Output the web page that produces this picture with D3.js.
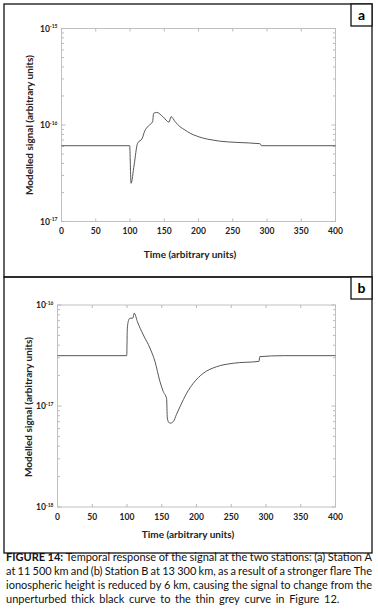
<!DOCTYPE html>
<html>
<head>
<meta charset="utf-8">
<script src="https://cdn.jsdelivr.net/npm/d3@7"></script>
<style>
  body { margin: 0; background: #fff; }
  svg { display: block; font-family: Lato, "Open Sans", sans-serif; }
</style>
</head>
<body>
<svg id="fig" width="378" height="610"></svg>
<script>
// Panel a: station A
const timeA = [0, 99.5, 101.5, 106, 111, 118, 121, 127, 133, 134.5, 139, 148, 157, 160, 166, 173, 180, 188, 197, 207, 220, 231, 256, 290, 292, 400]
const signalA = [6.1e-17, 6.1e-17, 2.49e-17, 3.85e-17, 6.45e-17, 7.3e-17, 8.5e-17, 9.8e-17, 1.08e-16, 1.32e-16, 1.35e-16, 1.22e-16, 1.07e-16, 1.22e-16, 1.08e-16, 9.6e-17, 8.9e-17, 8.2e-17, 7.7e-17, 7.3e-17, 7.0e-17, 6.8e-17, 6.6e-17, 6.4e-17, 6.1e-17, 6.1e-17]

// Panel b: station B
const timeB = [0, 99.6, 100.5, 102.4, 104.3, 108.2, 110.5, 114.9, 123.5, 133, 140.3, 147.5, 152.2, 157, 158, 160, 162, 166.6, 171, 176.3, 185.9, 195.4, 209.8, 229, 253, 290, 291, 325, 400]
const signalB = [3.15e-17, 3.15e-17, 5.9e-17, 7.1e-17, 7.4e-17, 7.4e-17, 8.3e-17, 6.85e-17, 5.05e-17, 3.75e-17, 2.75e-17, 1.74e-17, 1.39e-17, 1.18e-17, 7.6e-18, 6.9e-18, 6.75e-18, 7.0e-18, 8.2e-18, 9.85e-18, 1.34e-17, 1.68e-17, 2.11e-17, 2.45e-17, 2.65e-17, 2.77e-17, 3.08e-17, 3.15e-17, 3.15e-17]

const xTicks = [0, 50, 100, 150, 200, 250, 300, 350, 400]
const expA = [-15, -16, -17]
const expB = [-16, -17, -18]

const captionLines = [
  'FIGURE 14: Temporal response of the signal at the two stations: (a) Station A',
  'at 11 500 km and (b) Station B at 13 300 km, as a result of a stronger flare The',
  'ionospheric height is reduced by 6 km, causing the signal to change from the',
  'unperturbed thick black curve to the thin grey curve in Figure 12.'
]

const svg = d3.select('#fig')

function drawPanel(p) {
  // outer frame
  svg.append('rect')
    .attr('x', 4).attr('y', p.boxTop)
    .attr('width', 368).attr('height', p.boxBottom - p.boxTop)
    .attr('fill', 'none').attr('stroke', '#111').attr('stroke-width', 1.3)
  // letter box
  svg.append('rect')
    .attr('x', 351).attr('y', p.boxTop)
    .attr('width', 21).attr('height', 22)
    .attr('fill', '#fff').attr('stroke', '#111').attr('stroke-width', 1.3)
  svg.append('text')
    .attr('x', 361.5).attr('y', p.boxTop + 15.5)
    .attr('text-anchor', 'middle')
    .attr('font-size', 14).attr('font-weight', 'bold')
    .text(p.letter)

  const x = d3.scaleLinear().domain([0, 400]).range([p.left, p.right])
  const y = d3.scaleLog().domain(p.domain).range([p.bottom, p.top])

  const g = svg.append('g')

  // minor + major log ticks on both sides
  const yTicks = []
  for (let e = Math.log10(p.domain[0]); e < Math.log10(p.domain[1]); e++) {
    for (let m = 1; m < 10; m++) yTicks.push(m * Math.pow(10, e))
  }
  yTicks.push(p.domain[1])
  g.selectAll('.ytl').data(yTicks).join('line')
    .attr('x1', p.left).attr('x2', d => p.left + (Number.isInteger(Math.log10(d)) ? 4 : 2.5))
    .attr('y1', d => y(d)).attr('y2', d => y(d))
    .attr('stroke', '#aaa').attr('stroke-width', 0.8)
  g.selectAll('.ytr').data(yTicks).join('line')
    .attr('x1', p.right).attr('x2', d => p.right - (Number.isInteger(Math.log10(d)) ? 4 : 2.5))
    .attr('y1', d => y(d)).attr('y2', d => y(d))
    .attr('stroke', '#aaa').attr('stroke-width', 0.8)

  // x ticks top and bottom
  g.selectAll('.xtb').data(xTicks).join('line')
    .attr('x1', d => x(d)).attr('x2', d => x(d))
    .attr('y1', p.bottom).attr('y2', p.bottom - 3)
    .attr('stroke', '#aaa').attr('stroke-width', 0.8)
  g.selectAll('.xtt').data(xTicks).join('line')
    .attr('x1', d => x(d)).attr('x2', d => x(d))
    .attr('y1', p.top).attr('y2', p.top + 3)
    .attr('stroke', '#aaa').attr('stroke-width', 0.8)

  // plot frame
  g.append('rect')
    .attr('x', p.left).attr('y', p.top)
    .attr('width', p.right - p.left).attr('height', p.bottom - p.top)
    .attr('fill', 'none').attr('stroke', '#bbb').attr('stroke-width', 0.9)

  // x tick labels
  g.selectAll('.xl').data(xTicks).join('text')
    .attr('x', d => x(d)).attr('y', p.bottom + 12.5)
    .attr('text-anchor', 'middle')
    .attr('font-size', 8.5).attr('font-weight', 'bold').attr('fill', '#222')
    .text(d => d)

  // y tick labels 10^n
  const yl = g.selectAll('.yl').data(p.exps).join('text')
    .attr('x', p.left - 4).attr('y', d => y(Math.pow(10, d)) + 3)
    .attr('text-anchor', 'end')
    .attr('font-size', 8.5).attr('font-weight', 'bold').attr('fill', '#222')
  yl.append('tspan').text('10')
  yl.append('tspan').attr('font-size', 5).attr('dy', -3.5).text(d => d)

  // axis titles
  svg.append('text')
    .attr('x', p.xTitleX).attr('y', p.xTitleY)
    .attr('text-anchor', 'middle')
    .attr('font-size', 10).attr('font-weight', 'bold').attr('fill', '#222')
    .text('Time (arbitrary units)')
  svg.append('text')
    .attr('transform', `translate(${p.yTitleX},${p.yTitleY}) rotate(-90)`)
    .attr('text-anchor', 'middle')
    .attr('font-size', 10).attr('font-weight', 'bold').attr('fill', '#222')
    .text('Modelled signal (arbitrary units)')

  // curve
  const line = d3.line()
    .x(d => x(d[0])).y(d => y(d[1]))
    .curve(d3.curveMonotoneX)
  g.append('path')
    .datum(d3.zip(p.t, p.v))
    .attr('d', line)
    .attr('fill', 'none').attr('stroke', '#444').attr('stroke-width', 0.9)
}

drawPanel({
  letter: 'a', boxTop: 4, boxBottom: 277,
  left: 61.5, right: 335.5, top: 28.5, bottom: 221.5,
  domain: [1e-17, 1e-15], exps: expA,
  t: timeA, v: signalA,
  xTitleX: 190, xTitleY: 257.5, yTitleX: 33, yTitleY: 125
})

drawPanel({
  letter: 'b', boxTop: 277, boxBottom: 553,
  left: 57.5, right: 335.5, top: 305, bottom: 507,
  domain: [1e-18, 1e-16], exps: expB,
  t: timeB, v: signalB,
  xTitleX: 188, xTitleY: 537.5, yTitleX: 32, yTitleY: 407
})

// caption, justified word by word
const capLeft = 6, capRight = 372
const capBase = [560.5, 574.5, 589, 603]
captionLines.forEach((ln, i) => {
  const words = ln.split(' ')
  const tmp = words.map((w, j) => svg.append('text')
    .attr('font-size', 11)
    .attr('font-weight', i === 0 && j < 2 ? 'bold' : 'normal')
    .attr('fill', '#111')
    .attr('y', capBase[i])
    .text(w))
  const widths = tmp.map(t => t.node().getComputedTextLength())
  const total = d3.sum(widths)
  const last = i === captionLines.length - 1
  const gap = last ? 4.6 : (capRight - capLeft - total) / (words.length - 1)
  let cx = capLeft
  tmp.forEach((t, j) => {
    t.attr('x', cx)
    cx += widths[j] + gap
  })
})
</script>
</body>
</html>
